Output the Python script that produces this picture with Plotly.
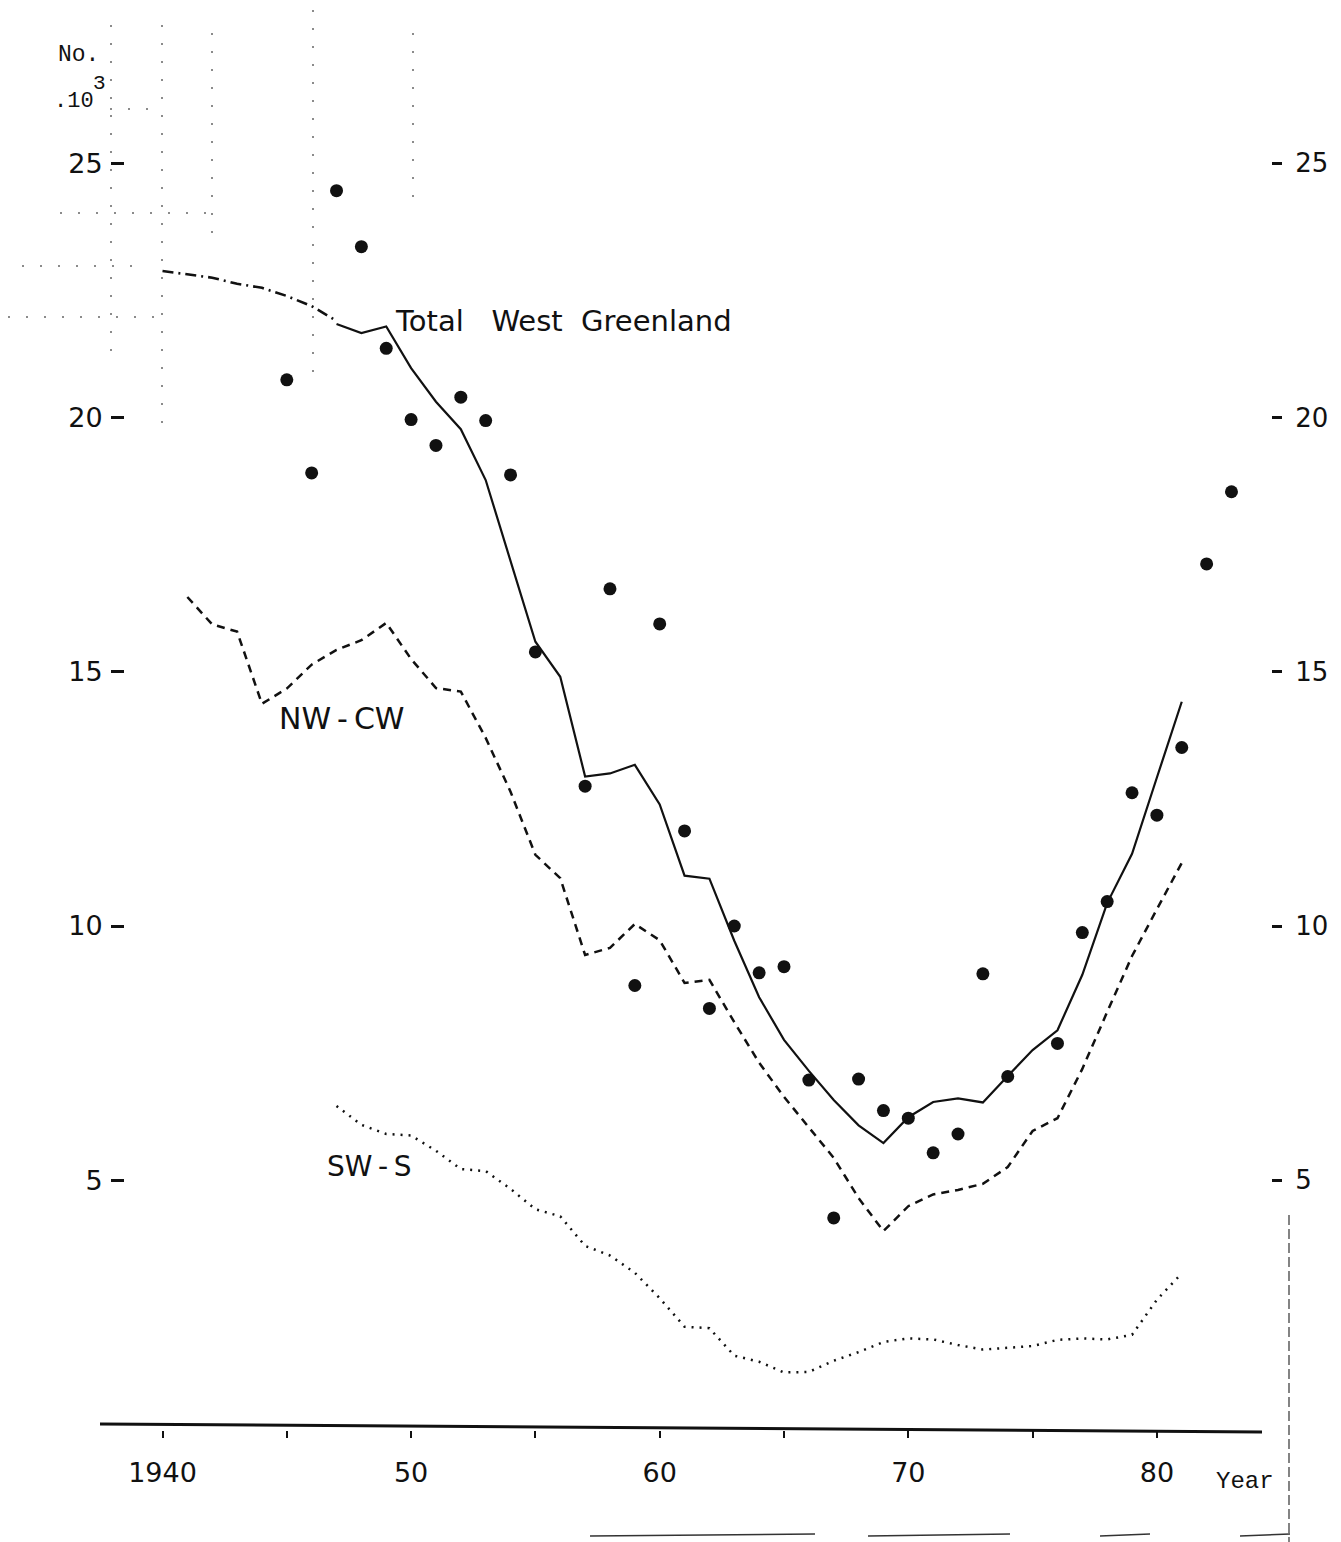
import plotly.graph_objects as go

# ---------------- data ----------------
# Observed numbers (dots), thousands
dot_years = [1945, 1946, 1947, 1948, 1949, 1950, 1951, 1952, 1953, 1954, 1955,
             1957, 1958, 1959, 1960, 1961, 1962, 1963, 1964, 1965, 1966, 1967,
             1968, 1969, 1970, 1971, 1972, 1973, 1974, 1976, 1977, 1978, 1979,
             1980, 1981, 1982, 1983]
dot_values = [20.74, 18.91, 24.46, 23.36, 21.36, 19.96, 19.45, 20.40, 19.94, 18.87, 15.39,
              12.75, 16.63, 8.83, 15.94, 11.87, 8.38, 10.00, 9.08, 9.20, 6.97, 4.26,
              6.99, 6.37, 6.22, 5.54, 5.91, 9.06, 7.04, 7.69, 9.87, 10.48, 12.62,
              12.18, 13.51, 17.12, 18.54]

# Total West Greenland, early (dash-dot) part
total_early_years = [1940, 1941, 1942, 1943, 1944, 1945, 1946, 1947]
total_early_values = [22.88, 22.82, 22.75, 22.63, 22.55, 22.39, 22.19, 21.90]

# Total West Greenland, solid part
total_years = [1947, 1948, 1949, 1950, 1951, 1952, 1953, 1954, 1955, 1956, 1957,
               1958, 1959, 1960, 1961, 1962, 1963, 1964, 1965, 1966, 1967, 1968,
               1969, 1970, 1971, 1972, 1973, 1974, 1975, 1976, 1977, 1978, 1979,
               1980, 1981]
total_values = [21.84, 21.66, 21.79, 20.97, 20.31, 19.77, 18.77, 17.20, 15.59, 14.90, 12.94,
                13.00, 13.17, 12.39, 10.99, 10.93, 9.71, 8.60, 7.76, 7.15, 6.58, 6.08,
                5.73, 6.24, 6.54, 6.61, 6.53, 7.05, 7.56, 7.95, 9.04, 10.45, 11.42,
                12.92, 14.41]

# NW-CW (dashed)
nwcw_years = [1941, 1942, 1943, 1944, 1945, 1946, 1947, 1948, 1949, 1950, 1951,
              1952, 1953, 1954, 1955, 1956, 1957, 1958, 1959, 1960, 1961, 1962,
              1963, 1964, 1965, 1966, 1967, 1968, 1969, 1970, 1971, 1972, 1973,
              1974, 1975, 1976, 1977, 1978, 1979, 1980, 1981]
nwcw_values = [16.47, 15.93, 15.79, 14.37, 14.67, 15.14, 15.43, 15.62, 15.96, 15.25, 14.68,
               14.61, 13.70, 12.64, 11.40, 10.94, 9.43, 9.57, 10.04, 9.72, 8.88, 8.94,
               8.11, 7.31, 6.64, 6.03, 5.44, 4.65, 4.00, 4.49, 4.72, 4.81, 4.93,
               5.26, 5.97, 6.22, 7.19, 8.31, 9.41, 10.33, 11.24]

# SW-S (dotted)
sws_years = [1947, 1948, 1949, 1950, 1951, 1952, 1953, 1954, 1955, 1956, 1957,
             1958, 1959, 1960, 1961, 1962, 1963, 1964, 1965, 1966, 1967, 1968,
             1969, 1970, 1971, 1972, 1973, 1974, 1975, 1976, 1977, 1978, 1979,
             1980, 1981]
sws_values = [6.46, 6.09, 5.91, 5.88, 5.58, 5.22, 5.18, 4.83, 4.43, 4.29, 3.71,
              3.52, 3.18, 2.68, 2.12, 2.09, 1.55, 1.43, 1.22, 1.23, 1.45, 1.62,
              1.82, 1.89, 1.87, 1.76, 1.67, 1.70, 1.74, 1.86, 1.89, 1.87, 1.96,
              2.65, 3.17]

x_tick_vals = [1940, 1950, 1960, 1970, 1980]
x_tick_text = ["1940", "50", "60", "70", "80"]
y_tick_vals = [5, 10, 15, 20, 25]
y_tick_text = ["5", "10", "15", "20", "25"]

# ---------------- layout geometry (pixels) ----------------
W, H = 1341, 1542
L, R, T, B = 125, 1271, 20, 1430


def px(xp):
    return (xp - L) / (R - L)


def py(yp):
    return (B - yp) / (B - T)


BLACK = "#111111"
FONT = "DejaVu Sans"

fig = go.Figure()

fig.add_trace(go.Scatter(x=total_early_years, y=total_early_values, mode="lines",
                         line=dict(color=BLACK, width=2.6, dash="11px,5px,2px,5px"),
                         hoverinfo="skip"))
fig.add_trace(go.Scatter(x=total_years, y=total_values, mode="lines",
                         line=dict(color=BLACK, width=2.2), hoverinfo="skip"))
fig.add_trace(go.Scatter(x=nwcw_years, y=nwcw_values, mode="lines",
                         line=dict(color=BLACK, width=2.5, dash="8px,6px"), hoverinfo="skip"))
fig.add_trace(go.Scatter(x=sws_years, y=sws_values, mode="lines",
                         line=dict(color=BLACK, width=2.5, dash="2px,6px"), hoverinfo="skip"))
# dots drawn against the right-hand axis (same scale) so that axis is rendered
fig.add_trace(go.Scatter(x=dot_years, y=dot_values, mode="markers", yaxis="y2",
                         marker=dict(color=BLACK, size=13, line=dict(width=0)),
                         hoverinfo="skip"))

yrange = [(1434.5 - B) / 50.85, (1434.5 - T) / 50.85]
xrange = [1940 + (L - 162.5) / 24.86, 1940 + (R - 162.5) / 24.86]

fig.update_layout(
    width=W, height=H,
    margin=dict(l=L, r=W - R, t=T, b=H - B, pad=0),
    paper_bgcolor="white", plot_bgcolor="white",
    showlegend=False,
    xaxis=dict(range=xrange, tickvals=x_tick_vals, ticktext=x_tick_text,
               ticks="outside", ticklen=7, tickwidth=1.5, tickcolor=BLACK,
               showgrid=False, zeroline=False, showline=False,
               tickfont=dict(family=FONT, size=27, color=BLACK),
               ticklabelstandoff=12,
               minor=dict(tick0=1940, dtick=5, ticks="outside", ticklen=7,
                          tickwidth=1.5, tickcolor=BLACK, showgrid=False)),
    yaxis=dict(range=yrange, tickvals=y_tick_vals, ticktext=y_tick_text,
               ticks="outside", ticklen=13, tickwidth=3, tickcolor=BLACK,
               showgrid=False, zeroline=False, showline=False,
               tickfont=dict(family=FONT, size=27, color=BLACK),
               ticklabelstandoff=3),
    yaxis2=dict(range=yrange, overlaying="y", side="right", anchor="x",
                tickvals=y_tick_vals, ticktext=y_tick_text,
                ticks="outside", ticklen=10, tickwidth=2.5, tickcolor=BLACK,
                showgrid=False, zeroline=False, showline=False,
                tickfont=dict(family=FONT, size=26, color=BLACK),
                ticklabelstandoff=8),
)

# baseline (x axis line, slightly skewed as in the scan)
fig.add_shape(type="line", xref="paper", yref="paper",
              x0=px(100), y0=py(1424), x1=px(1262), y1=py(1432),
              line=dict(color=BLACK, width=3))

# faint scan artefacts (dotted guide lines)
artefacts = [
    (162, 25, 162, 430), (111, 25, 111, 367), (212, 33, 212, 243),
    (313, 10, 313, 377), (413, 33, 413, 213),
    (22, 266, 148, 266), (110, 109, 160, 109), (60, 213, 213, 213),
    (8, 317, 165, 317),
]
for x0, y0, x1, y1 in artefacts:
    fig.add_shape(type="line", xref="paper", yref="paper",
                  x0=px(x0), y0=py(y0), x1=px(x1), y1=py(y1),
                  line=dict(color="#666666", width=1.5, dash="2px,16px"))
fig.add_shape(type="line", xref="paper", yref="paper",
              x0=px(1289), y0=py(1215), x1=px(1289), y1=py(1542),
              line=dict(color="#333333", width=1.2, dash="10px,4px"))
for x0, x1 in [(590, 815), (868, 1010), (1100, 1150), (1240, 1290)]:
    fig.add_shape(type="line", xref="paper", yref="paper",
                  x0=px(x0), y0=py(1536), x1=px(x1), y1=py(1534),
                  line=dict(color="#333333", width=1.5))

NB = "\u00a0"
THIN = "\u2009"
annotations = [
    dict(text="Total" + NB * 3 + "West" + NB * 2 + "Greenland", x=px(393), y=py(321),
         font=dict(family=FONT, size=29, color=BLACK)),
    dict(text="NW" + THIN + "-" + THIN + "CW", x=px(277), y=py(718),
         font=dict(family=FONT, size=30, color=BLACK)),
    dict(text="SW" + THIN + "-" + THIN + "S", x=px(325), y=py(1166),
         font=dict(family=FONT, size=28, color=BLACK)),
    dict(text="Year", x=px(1214), y=py(1481),
         font=dict(family="Liberation Mono", size=24, color=BLACK)),
    dict(text="No.", x=px(56), y=py(55),
         font=dict(family="Liberation Mono", size=23, color=BLACK)),
    dict(text=".10", x=px(52), y=py(102),
         font=dict(family="Liberation Mono", size=22, color=BLACK)),
    dict(text="3", x=px(91), y=py(84),
         font=dict(family="Liberation Mono", size=21, color=BLACK)),
]
for a in annotations:
    fig.add_annotation(xref="paper", yref="paper", xanchor="left", yanchor="middle",
                       showarrow=False, **a)

fig.write_html("out.html")
